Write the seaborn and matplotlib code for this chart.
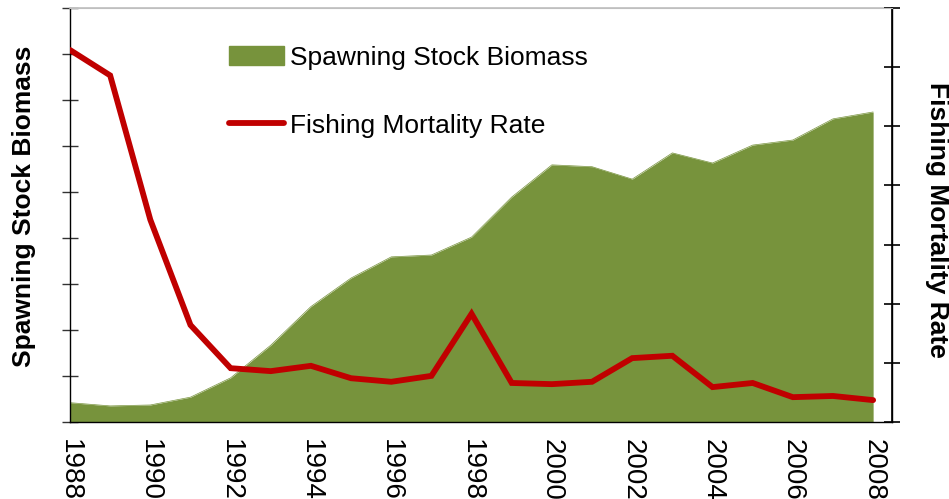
import matplotlib
matplotlib.use("Agg")
import matplotlib.pyplot as plt
import seaborn as sns
import pandas as pd
from matplotlib.patches import Patch
from matplotlib.lines import Line2D

years = list(range(1988, 2009))
ssb = [0.42, 0.35, 0.37, 0.54, 0.96, 1.67, 2.51, 3.13, 3.59, 3.63, 4.02,
       4.89, 5.59, 5.55, 5.28, 5.85, 5.63, 6.02, 6.13, 6.59, 6.74]
fmort = [0.629, 0.586, 0.342, 0.164, 0.091, 0.086, 0.095, 0.074, 0.068, 0.078, 0.183,
         0.066, 0.064, 0.068, 0.108, 0.112, 0.059, 0.066, 0.042, 0.044, 0.037]
tick_labels = [str(y) if y % 2 == 0 else "" for y in years]

ssb_label = "Spawning Stock Biomass"
f_label = "Fishing Mortality Rate"

sns.set_style("white")
plt.rcParams["font.family"] = ["Liberation Sans", "DejaVu Sans"]
plt.rcParams["text.color"] = "black"
plt.rcParams["xtick.color"] = "black"
plt.rcParams["ytick.color"] = "black"
plt.rcParams["xtick.labelcolor"] = "black"

df = pd.DataFrame({"year": years, "ssb": ssb, "f": fmort})

green = "#77933C"
red = "#C00000"

fig = plt.figure(figsize=(9.49, 4.99), dpi=100)
ax = fig.add_axes([70/949, 1-422/499, (892-70)/949, (422-8)/499])

ax.fill_between(df["year"], 0, df["ssb"], color=green, lw=0, zorder=1)
sns.lineplot(data=df, x="year", y="ssb", ax=ax, color=green, lw=0.5, zorder=2)
ax.set_xlim(1988, 2008.47)
ax.set_ylim(0, 9)
ax.set_yticks(range(0, 10))
ax.set_yticklabels([])
ax.set_xticks(years)
ax.set_xticklabels(tick_labels, rotation=-90, fontsize=20, va="top", ha="center",
                   color="black")
ax.set_xlabel("")
ax.set_ylabel("")
ax.tick_params(axis="x", direction="inout", length=11, width=1, color="#333333", pad=7)
ax.tick_params(axis="y", direction="inout", length=11, width=1, color="#333333")
ax.spines["top"].set_color("#BFBFBF")
ax.spines["top"].set_linewidth(1.2)
for s in ["left", "bottom", "right"]:
    ax.spines[s].set_color("black")
    ax.spines[s].set_linewidth(1.0)

ax2 = ax.twinx()
sns.lineplot(data=df, x="year", y="f", ax=ax2, color=red, lw=4.2,
             solid_capstyle="round", solid_joinstyle="miter")
ax2.set_ylim(0, 0.7)
ax2.set_yticks([i/10 for i in range(8)])
ax2.set_yticklabels([])
ax2.set_ylabel("")
ax2.set_xlabel("")
ax2.set_xlim(1988, 2008.47)
ax2.tick_params(axis="y", direction="inout", length=12, width=1.2, color="black")
ax2.spines["right"].set_color("black")
ax2.spines["right"].set_linewidth(1.2)
ax2.spines["top"].set_color("#BFBFBF")
ax2.spines["left"].set_visible(False)
ax2.spines["bottom"].set_visible(False)

handles = [Patch(facecolor=green, edgecolor=green, label=ssb_label),
           Line2D([0], [0], color=red, lw=4.2, solid_capstyle="round", label=f_label)]
leg = ax2.legend(handles=handles, loc="upper left",
                 bbox_to_anchor=(229/949, 1-46/499), bbox_transform=fig.transFigure,
                 frameon=False, fontsize=19, handlelength=2.1, handletextpad=0.2,
                 labelspacing=1.65, handleheight=0.75, borderpad=0, borderaxespad=0)
for t in leg.get_texts():
    t.set_color("black")

fig.text(24/949, 1-206/499, ssb_label, rotation=90, fontsize=19, fontweight="bold",
         ha="center", va="center", color="black")
fig.text(937/949, 1-220/499, f_label, rotation=-90, fontsize=19, fontweight="bold",
         ha="center", va="center", color="black")

fig.savefig("out.png", dpi=100)
